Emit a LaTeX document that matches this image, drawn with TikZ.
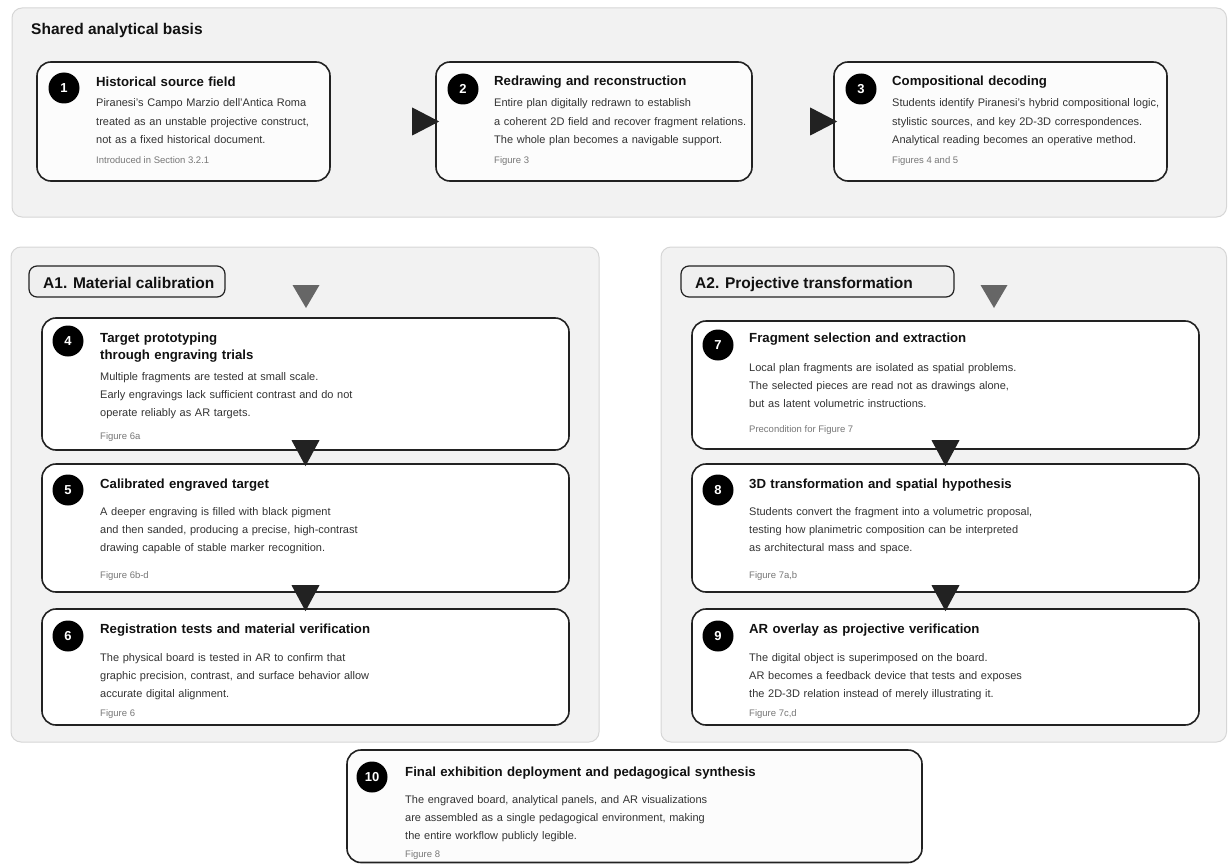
\documentclass[tikz,border=0pt]{standalone}
\usepackage{fontspec}
\setmainfont{Liberation Sans}
\usetikzlibrary{calc,fit}

\definecolor{panelfill}{HTML}{F2F2F2}
\definecolor{panelline}{HTML}{D6D6D6}
\definecolor{cardline}{HTML}{222222}
\definecolor{cardfill}{HTML}{FCFCFC}
\definecolor{labelfill}{HTML}{EFEFEF}
\definecolor{titlecol}{HTML}{111111}
\definecolor{bodycol}{HTML}{333333}
\definecolor{notecol}{HTML}{777777}
\definecolor{arrowdark}{HTML}{222222}
\definecolor{arrowgray}{HTML}{666666}

\begin{document}
\begin{tikzpicture}[x=1pt,y=-1pt,
  panel/.style={fill=panelfill,draw=panelline,line width=1pt,rounded corners=10pt,inner sep=0pt},
  card/.style={fill=cardfill,draw=cardline,line width=1.6pt,rounded corners=14pt,inner sep=0pt},
  lanebox/.style={fill=labelfill,draw=cardline,line width=1.2pt,rounded corners=8pt,inner sep=0pt},
  lanetext/.style={anchor=base west,inner sep=0pt,text=titlecol,font=\bfseries\fontsize{15.5}{18}\selectfont},
  badge/.style={circle,fill=black,text=white,inner sep=0pt,minimum size=31pt,font=\bfseries\fontsize{13}{13}\selectfont},
  ttl/.style={anchor=base west,inner sep=0pt,text=titlecol,text width=420pt,align=left,font=\bfseries\fontsize{13.2}{17}\selectfont},
  bdy/.style={anchor=base west,inner sep=0pt,text=bodycol,text width=420pt,align=left,font=\fontsize{11}{18.3}\selectfont},
  fig/.style={anchor=base west,inner sep=0pt,text=notecol,font=\fontsize{9.5}{11}\selectfont},
  darrow/.style={fill=arrowdark},
  garrow/.style={fill=arrowgray}]

\useasboundingbox (0,0) rectangle (1228,864);

% ---------- shared analytical basis ----------
\node[panel,fit={(12,8) (1226.5,217)}] (top) {};
\node[lanetext] (toph) at (31,35) {Shared analytical basis};

\node[card,fit={(37,62) (330,181)}] (c1) {};
\node[badge] (n1) at (64,88) {1};
\node[ttl] (t1) at (96,87) {Historical source field};
\node[bdy] (b1) at (96,107) {Piranesi's Campo Marzio dell'Antica Roma\\treated as an unstable projective construct,\\not as a fixed historical document.};
\node[fig] (f1) at (96,163) {Introduced in Section 3.2.1};

\node[card,fit={(436,62) (752,181)}] (c2) {};
\node[badge] (n2) at (463,89) {2};
\node[ttl] (t2) at (494,86) {Redrawing and reconstruction};
\node[bdy] (b2) at (494,107) {Entire plan digitally redrawn to establish\\a coherent 2D field and recover fragment relations.\\The whole plan becomes a navigable support.};
\node[fig] (f2) at (494,163) {Figure 3};

\node[card,fit={(834,62) (1167,181)}] (c3) {};
\node[badge] (n3) at (861,89) {3};
\node[ttl] (t3) at (892,86) {Compositional decoding};
\node[bdy] (b3) at (892,107) {Students identify Piranesi's hybrid compositional logic,\\stylistic sources, and key 2D-3D correspondences.\\Analytical reading becomes an operative method.};
\node[fig] (f3) at (892,163) {Figures 4 and 5};

\fill[darrow] ($(c2.west)+(4,0)$) -- ++(-27,-14) -- ++(0,28) -- cycle;
\fill[darrow] ($(c3.west)+(4,0)$) -- ++(-27,-14) -- ++(0,28) -- cycle;

% ---------- A1: material calibration ----------
\node[panel,fit={(11,247) (599,742)}] (pa1) {};
\node[lanebox,fit={(29,266) (225,297)}] (la1) {};
\node[lanetext] (la1t) at (43,288) {A1. Material calibration};

\node[card,fill=white,fit={(42,318) (569,450)}] (c4) {};
\node[badge] (n4) at (68,341) {4};
\node[ttl] (t4) at (100,342) {Target prototyping\\through engraving trials};
\node[bdy] (b4) at (100,380) {Multiple fragments are tested at small scale.\\Early engravings lack sufficient contrast and do not\\operate reliably as AR targets.};
\node[fig] (f4) at (100,439) {Figure 6a};

\node[card,fill=white,fit={(42,464) (569,592)}] (c5) {};
\node[badge] (n5) at (68,490) {5};
\node[ttl] (t5) at (100,488) {Calibrated engraved target};
\node[bdy] (b5) at (100,515) {A deeper engraving is filled with black pigment\\and then sanded, producing a precise, high-contrast\\drawing capable of stable marker recognition.};
\node[fig] (f5) at (100,578) {Figure 6b-d};

\node[card,fill=white,fit={(42,609) (569,725)}] (c6) {};
\node[badge] (n6) at (68,636) {6};
\node[ttl] (t6) at (100,633) {Registration tests and material verification};
\node[bdy] (b6) at (100,661) {The physical board is tested in AR to confirm that\\graphic precision, contrast, and surface behavior allow\\accurate digital alignment.};
\node[fig] (f6) at (100,716) {Figure 6};

\coordinate (g1) at (306,308);
\fill[garrow] (g1) -- ++(-13.5,-23) -- ++(27,0) -- cycle;
\fill[darrow] ($(c5.north)+(0,3)$) -- ++(-14,-26) -- ++(28,0) -- cycle;
\fill[darrow] ($(c6.north)+(0,3)$) -- ++(-14,-26) -- ++(28,0) -- cycle;

% ---------- A2: projective transformation ----------
\node[panel,fit={(661,247) (1226.5,742)}] (pa2) {};
\node[lanebox,fit={(681,266) (954,297)}] (la2) {};
\node[lanetext] (la2t) at (695,288) {A2. Projective transformation};

\node[card,fill=white,fit={(692,321) (1199,449)}] (c7) {};
\node[badge] (n7) at (718,345) {7};
\node[ttl] (t7) at (749,342) {Fragment selection and extraction};
\node[bdy] (b7) at (749,371) {Local plan fragments are isolated as spatial problems.\\The selected pieces are read not as drawings alone,\\but as latent volumetric instructions.};
\node[fig] (f7) at (749,432) {Precondition for Figure 7};

\node[card,fill=white,fit={(692,464) (1199,592)}] (c8) {};
\node[badge] (n8) at (718,490) {8};
\node[ttl] (t8) at (749,488) {3D transformation and spatial hypothesis};
\node[bdy] (b8) at (749,515) {Students convert the fragment into a volumetric proposal,\\testing how planimetric composition can be interpreted\\as architectural mass and space.};
\node[fig] (f8) at (749,578) {Figure 7a,b};

\node[card,fill=white,fit={(692,609) (1199,725)}] (c9) {};
\node[badge] (n9) at (718,636) {9};
\node[ttl] (t9) at (749,633) {AR overlay as projective verification};
\node[bdy] (b9) at (749,661) {The digital object is superimposed on the board.\\AR becomes a feedback device that tests and exposes\\the 2D-3D relation instead of merely illustrating it.};
\node[fig] (f9) at (749,716) {Figure 7c,d};

\coordinate (g2) at (994,308);
\fill[garrow] (g2) -- ++(-13.5,-23) -- ++(27,0) -- cycle;
\fill[darrow] ($(c8.north)+(0,3)$) -- ++(-14,-26) -- ++(28,0) -- cycle;
\fill[darrow] ($(c9.north)+(0,3)$) -- ++(-14,-26) -- ++(28,0) -- cycle;

% ---------- synthesis ----------
\node[card,fit={(347,750) (922,862.5)}] (c10) {};
\node[badge] (n10) at (372,777) {10};
\node[ttl] (t10) at (405,776) {Final exhibition deployment and pedagogical synthesis};
\node[bdy] (b10) at (405,803) {The engraved board, analytical panels, and AR visualizations\\are assembled as a single pedagogical environment, making\\the entire workflow publicly legible.};
\node[fig] (f10) at (405,857) {Figure 8};

\end{tikzpicture}
\end{document}
